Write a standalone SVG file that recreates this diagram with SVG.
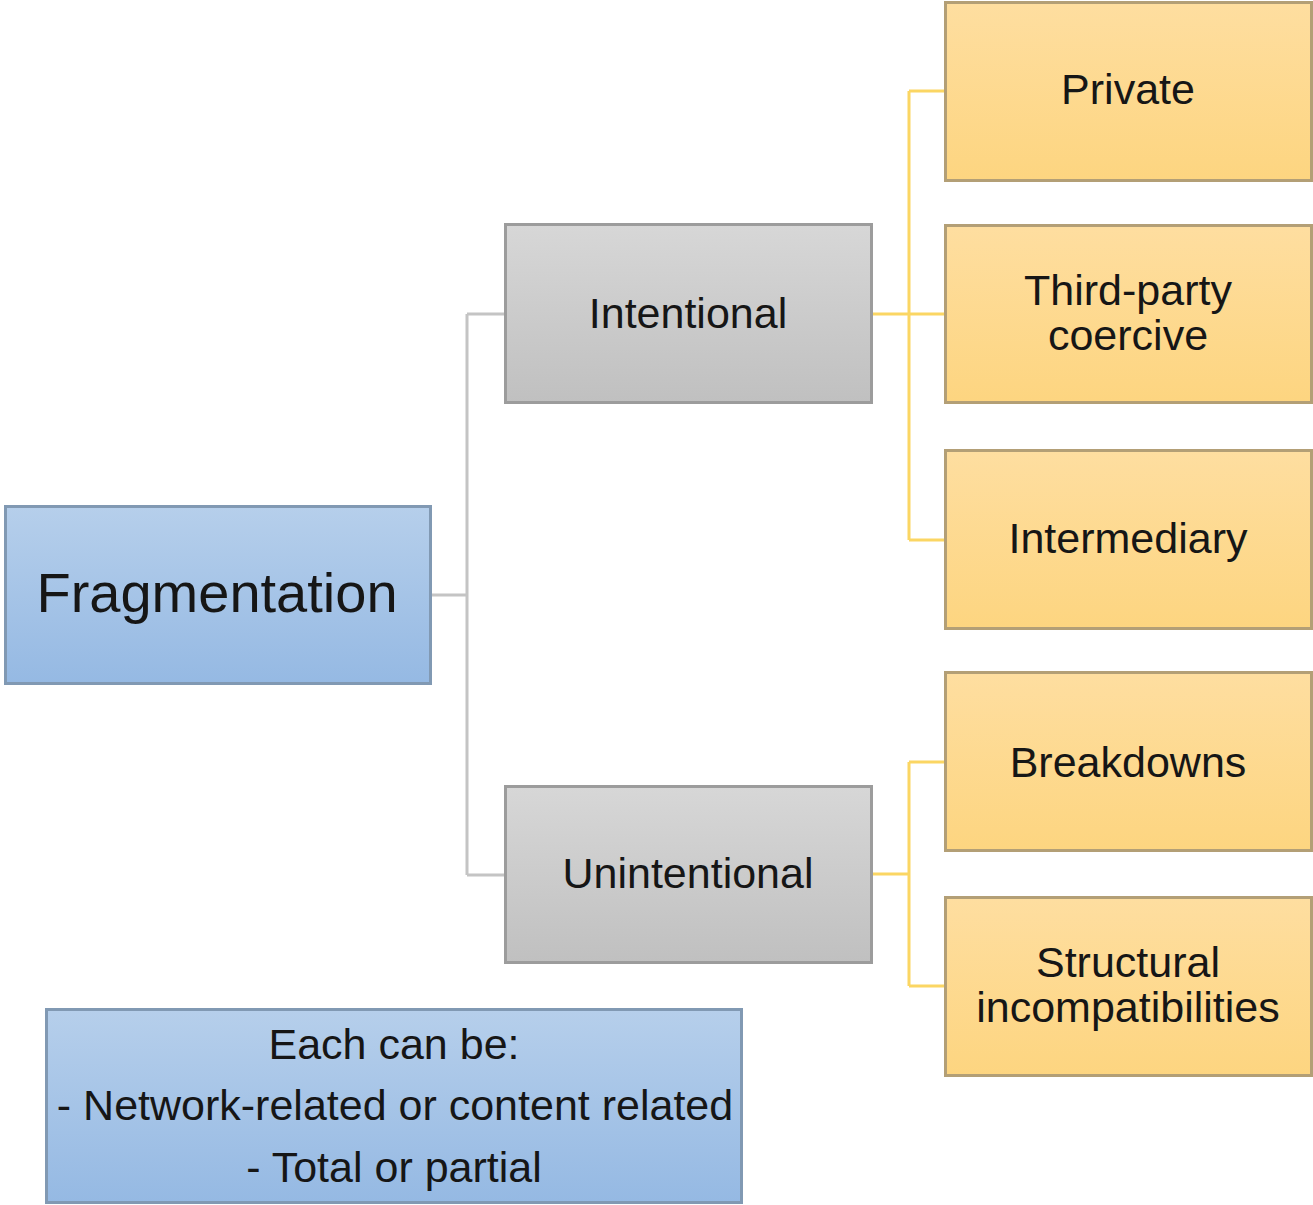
<svg xmlns="http://www.w3.org/2000/svg" width="1313" height="1205" viewBox="0 0 1313 1205">
<defs>
<linearGradient id="gBlue" x1="0" y1="0" x2="0" y2="1"><stop offset="0" stop-color="#b6cfeb"/><stop offset="1" stop-color="#95b9e3"/></linearGradient>
<linearGradient id="gGray" x1="0" y1="0" x2="0" y2="1"><stop offset="0" stop-color="#d7d7d7"/><stop offset="1" stop-color="#c0c0c0"/></linearGradient>
<linearGradient id="gOrange" x1="0" y1="0" x2="0" y2="1"><stop offset="0" stop-color="#fedea0"/><stop offset="1" stop-color="#fdd580"/></linearGradient>
</defs>
<style>
.blue{fill:url(#gBlue);stroke:#8199b3;stroke-width:3}
.gray{fill:url(#gGray);stroke:#9c9c9c;stroke-width:3}
.orange{fill:url(#gOrange);stroke:#b39f76;stroke-width:3}
text{font-family:"Liberation Sans",Arial,sans-serif;fill:#161616;text-anchor:middle;font-size:43px}
.big{font-size:56px}
.gc{fill:none;stroke:#c4c4c4;stroke-width:3}
.oc{fill:none;stroke:#fbd663;stroke-width:3}
</style>
<g id="connectors">
<path class="gc" d="M431 595 H467 M467 314 V875 M467 314 H505 M467 875 H505"/>
<path class="oc" d="M872 314 H945 M909 91 V540 M909 91 H945 M909 540 H945"/>
<path class="oc" d="M872 874 H909 M909 762 V986 M909 762 H945 M909 986 H945"/>
</g>
<g id="fragmentation">
<rect class="blue" x="5.5" y="506.5" width="425" height="177"/>
<text class="big" x="217" y="612">Fragmentation</text>
</g>
<g id="intentional">
<rect class="gray" x="505.5" y="224.5" width="366" height="178"/>
<text x="688" y="328">Intentional</text>
</g>
<g id="unintentional">
<rect class="gray" x="505.5" y="786.5" width="366" height="176"/>
<text x="688" y="888">Unintentional</text>
</g>
<g id="private">
<rect class="orange" x="945.5" y="2.5" width="366" height="178"/>
<text x="1128" y="104">Private</text>
</g>
<g id="third-party">
<rect class="orange" x="945.5" y="225.5" width="366" height="177"/>
<text x="1128" y="305">Third-party</text>
<text x="1128" y="350">coercive</text>
</g>
<g id="intermediary">
<rect class="orange" x="945.5" y="450.5" width="366" height="178"/>
<text x="1128" y="553">Intermediary</text>
</g>
<g id="breakdowns">
<rect class="orange" x="945.5" y="672.5" width="366" height="178"/>
<text x="1128" y="777">Breakdowns</text>
</g>
<g id="structural">
<rect class="orange" x="945.5" y="897.5" width="366" height="178"/>
<text x="1128" y="977">Structural</text>
<text x="1128" y="1022">incompatibilities</text>
</g>
<g id="note">
<rect class="blue" x="46.5" y="1009.5" width="695" height="193"/>
<text x="394" y="1059">Each can be:</text>
<text x="395" y="1120">- Network-related or content related</text>
<text x="394" y="1182">- Total or partial</text>
</g>
</svg>
